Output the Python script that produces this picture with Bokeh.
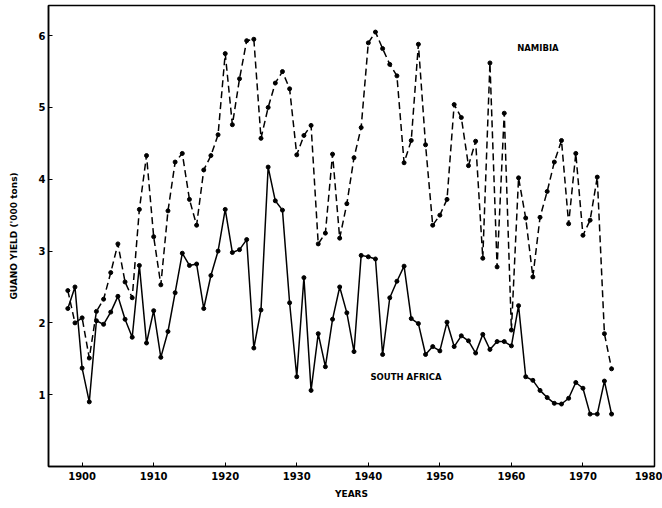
from bokeh.plotting import figure
from bokeh.models import Range1d, FixedTicker, Label
from bokeh.embed import file_html
from bokeh.resources import INLINE

years = list(range(1898, 1975))

south_africa = [
    2.20, 2.50, 1.37, 0.90, 2.03, 1.98, 2.15, 2.37, 2.05, 1.80,
    2.80, 1.72, 2.17, 1.52, 1.88, 2.42, 2.97, 2.80, 2.82, 2.20,
    2.66, 3.00, 3.58, 2.98, 3.02, 3.16, 1.65, 2.18, 4.17, 3.70,
    3.57, 2.28, 1.25, 2.63, 1.06, 1.85, 1.39, 2.05, 2.50, 2.14,
    1.60, 2.94, 2.92, 2.89, 1.56, 2.35, 2.58, 2.79, 2.06, 1.99,
    1.56, 1.67, 1.61, 2.01, 1.67, 1.82, 1.75, 1.58, 1.84, 1.63,
    1.74, 1.74, 1.68, 2.24, 1.25, 1.20, 1.06, 0.96, 0.88, 0.87,
    0.95, 1.17, 1.09, 0.73, 0.73, 1.19, 0.73,
]

namibia = [
    2.45, 2.00, 2.07, 1.51, 2.16, 2.33, 2.70, 3.10, 2.57, 2.35,
    3.58, 4.33, 3.20, 2.53, 3.56, 4.24, 4.36, 3.72, 3.36, 4.13,
    4.33, 4.62, 5.75, 4.76, 5.40, 5.93, 5.95, 4.57, 5.00, 5.34,
    5.50, 5.26, 4.34, 4.61, 4.75, 3.10, 3.25, 4.35, 3.18, 3.66,
    4.30, 4.72, 5.90, 6.05, 5.82, 5.60, 5.44, 4.23, 4.54, 5.88,
    4.48, 3.36, 3.50, 3.72, 5.04, 4.86, 4.19, 4.53, 2.90, 5.62,
    2.78, 4.92, 1.90, 4.02, 3.46, 2.64, 3.47, 3.83, 4.24, 4.54,
    3.38, 4.36, 3.22, 3.43, 4.03, 1.85, 1.36,
]

x_ticks = [1900, 1910, 1920, 1930, 1940, 1950, 1960, 1970, 1980]
y_ticks = [1, 2, 3, 4, 5, 6]

FONT = "DejaVu Sans"

p = figure(width=662, height=508, output_backend="svg", toolbar_location=None,
           x_range=Range1d(1895.3, 1980.0), y_range=Range1d(0, 6.42),
           min_border_left=48, min_border_right=8, min_border_top=5,
           min_border_bottom=42)
p.grid.visible = False
p.outline_line_color = "black"
p.outline_line_width = 1.5
p.background_fill_color = "white"
p.border_fill_color = "white"

p.xaxis.ticker = FixedTicker(ticks=x_ticks)
p.yaxis.ticker = FixedTicker(ticks=y_ticks)
for ax in (p.xaxis, p.yaxis):
    ax.axis_line_width = 1.5
    ax.major_tick_in = 4
    ax.major_tick_out = 0
    ax.minor_tick_line_color = None
    ax.major_label_text_font = FONT
    ax.major_label_text_font_style = "bold"
    ax.major_label_text_font_size = "10px"
    ax.major_label_text_color = "black"
    ax.axis_label_text_font = FONT
    ax.axis_label_text_font_style = "bold"
    ax.axis_label_text_color = "black"

p.xaxis.axis_label = "YEARS"
p.xaxis.axis_label_text_font_size = "9px"
p.xaxis.axis_label_standoff = 6
p.xaxis.major_label_standoff = 5
p.yaxis.axis_label = "GUANO YIELD ('000 tons)"
p.yaxis.axis_label_text_font_size = "9px"
p.yaxis.axis_label_standoff = 17
p.yaxis.major_label_standoff = 3

p.line(years, namibia, line_color="black", line_width=1.5, line_dash="7 4")
p.scatter(years, namibia, size=4, color="black")
p.line(years, south_africa, line_color="black", line_width=1.5)
p.scatter(years, south_africa, size=4, color="black")

p.add_layout(Label(x=1960.8, y=5.83, text="NAMIBIA", text_font=FONT,
                   text_font_style="bold", text_font_size="8.5px",
                   text_baseline="middle", text_color="black"))
p.add_layout(Label(x=1940.3, y=1.25, text="SOUTH AFRICA", text_font=FONT,
                   text_font_style="bold", text_font_size="8.5px",
                   text_baseline="middle", text_color="black"))

open("out.html", "w").write(file_html(p, INLINE))
